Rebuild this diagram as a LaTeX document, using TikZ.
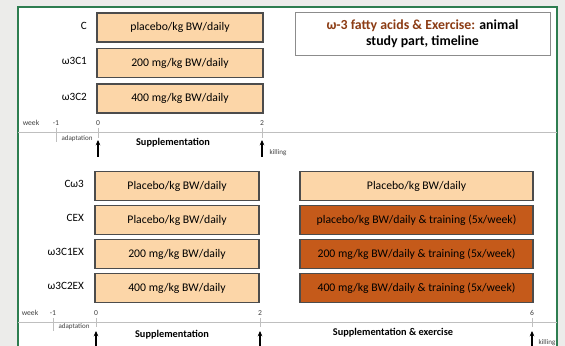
\documentclass[tikz,border=0pt]{standalone}
\usepackage{fontspec}
\setmainfont{Carlito}
\usepackage{tikz}
\usetikzlibrary{arrows.meta, positioning, shadows}
\definecolor{cPeach}{RGB}{252,214,168}
\definecolor{cRust}{RGB}{197,90,26}
\definecolor{cTitle}{RGB}{140,60,20}
\definecolor{cFrame}{RGB}{46,125,80}
\definecolor{cBack}{RGB}{236,236,234}
\tikzset{
	dosebox/.style ={rectangle, draw=black!70, line width=0.9pt, fill=cPeach, minimum height=0.87cm, align=center, font=\fontsize{10}{11}\selectfont, drop shadow={shadow xshift=0.4pt, shadow yshift=-0.4pt, opacity=0.3}},
	grplab/.style  ={anchor=east, font=\fontsize{9.5}{10}\selectfont},
	weeklab/.style ={font=\fontsize{6.5}{7}\selectfont, text=black!75},
	tinylab/.style ={font=\fontsize{6}{6}\selectfont, text=black!75},
	phaselab/.style={font=\bfseries\fontsize{8.8}{9}\selectfont},
	tline/.style   ={draw=black!25, line width=0.6pt},
	tickline/.style={draw=black!25, line width=0.5pt},
	markarrow/.style={-{Stealth[length=1.6mm, width=1.4mm]}, line width=1pt},
}

\begin{document}
\begin{tikzpicture}[x=0.03cm, y=-0.03cm]
	\useasboundingbox (0,0) rectangle (565,346);
	\fill[cBack] (0,0) rectangle (565,346);
	\fill[white] (18,7) rectangle (557,346);
	\draw[cFrame, line width=0.9pt] (18,346) -- (18,7) -- (557,7) -- (557,346);
	% title
	\node[draw=black!45, line width=0.6pt, fill=white, minimum width=7.65cm, minimum height=1.3cm, align=center, font=\bfseries\fontsize{11.8}{14}\selectfont] (title) at (422.5,34)
		{\textcolor{cTitle}{ω-3 fatty acids \& Exercise:} animal\\study part, timeline};
	% first study: supplementation only
	\foreach \n/\y/\grp/\txt in {
		c/27.5/{C}/{placebo/kg BW/daily},
		wc1/63/{ω3C1}/{200 mg/kg BW/daily},
		wc2/98.5/{ω3C2}/{400 mg/kg BW/daily}} {
		\node[dosebox, minimum width=4.98cm] (\n) at (180,\y) {\txt};
		\node[grplab] (\n lab) at (91,\y-2) {\grp};
	}
	\draw[tline] (18,132) -- (557,132);
	\node[weeklab] (wk1) at (31,123) {week};
	\foreach \n/\x/\w in {m/56/-1, z/98/0, t/262/2} {
		\node[weeklab] (w\n) at (\x,123) {\w};
		\draw[tickline] (\x,128) -- (\x,\ifnum\w=-1 142\else 138\fi);
	}
	\node[tinylab] (adapt1) at (77,139) {adaptation};
	\node[phaselab] (supp1) at (173,143) {Supplementation};
	\node[tinylab] (kill1) at (278,153) {killing};
	\foreach \n/\x in {z/98, t/262} {
		\coordinate (a\n foot) at (\x,157);
		\coordinate (a\n head) at (\x,140);
		\draw[markarrow] (a\n foot) -- (a\n head);
	}
	% second study: supplementation, then exercise
	\foreach \n/\y/\grp/\txt/\col/\rtxt in {
		cw/186/{Cω3}/{Placebo/kg BW/daily}/cPeach/{Placebo/kg BW/daily},
		cex/220/{CEX}/{Placebo/kg BW/daily}/cRust/{placebo/kg BW/daily \& training (5x/week)},
		wc1ex/254/{ω3C1EX}/{200 mg/kg BW/daily}/cRust/{200 mg/kg BW/daily \& training (5x/week)},
		wc2ex/288/{ω3C2EX}/{400 mg/kg BW/daily}/cRust/{400 mg/kg BW/daily \& training (5x/week)}} {
		\node[dosebox, minimum width=4.92cm] (\n l) at (177,\y) {\txt};
		\node[dosebox, fill=\col, minimum width=6.99cm] (\n r) at (416.5,\y) {\rtxt};
		\node[grplab] (\n lab) at (88,\y-2) {\grp};
	}
	\draw[tline] (18,322) -- (557,322);
	\node[weeklab] (wk2) at (30,313) {week};
	\foreach \n/\x/\w in {m/53/-1, z/96/0, t/260/2, s/532/6} {
		\node[weeklab] (v\n) at (\x,313) {\w};
		\draw[tickline] (\x,318) -- (\x,\ifnum\w=-1 331\else 327\fi);
	}
	\node[tinylab] (adapt2) at (74,327) {adaptation};
	\node[phaselab] (supp2) at (172,335) {Supplementation};
	\node[phaselab] (supp3) at (393,333) {Supplementation \& exercise};
	\node[tinylab] (kill2) at (547,343) {killing};
	\foreach \n/\x in {z/96, t/260, s/532} {
		\coordinate (b\n foot) at (\x,350);
		\coordinate (b\n head) at (\x,331);
		\draw[markarrow] (b\n foot) -- (b\n head);
	}
\end{tikzpicture}
\end{document}
